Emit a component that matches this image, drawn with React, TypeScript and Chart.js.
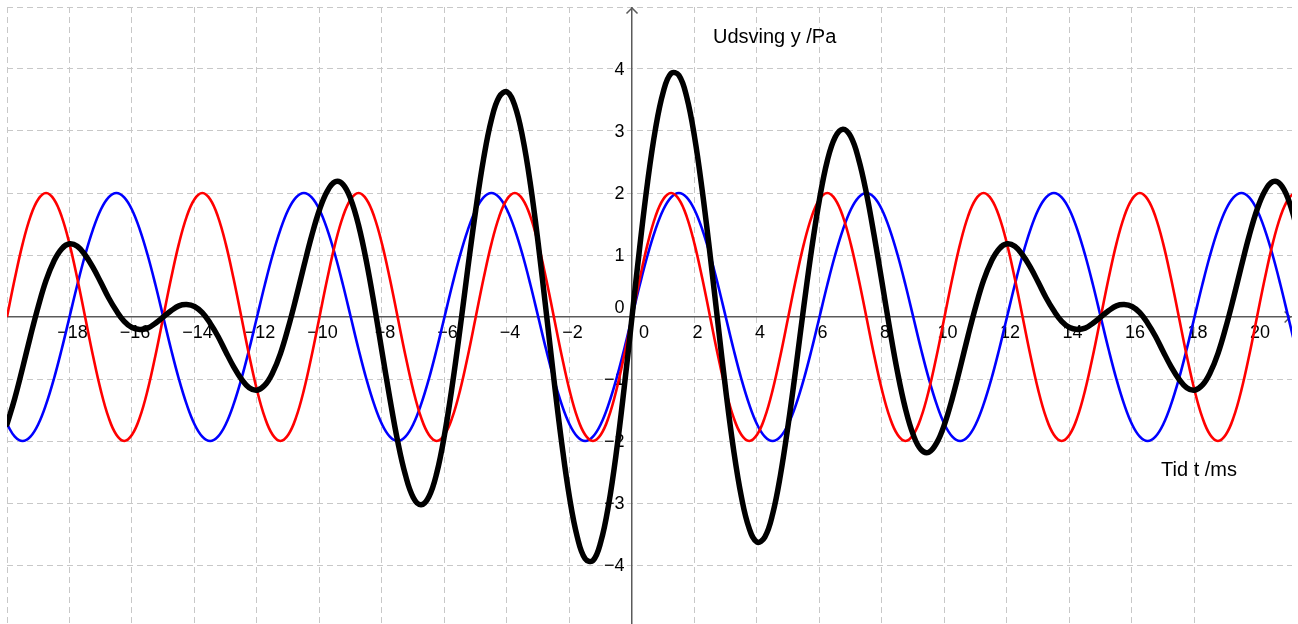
import { useEffect, useRef } from 'react';
import Chart from 'chart.js/auto';

// Time axis samples (ms)
const TIME = [
  -20, -19.75, -19.5, -19.25, -19, -18.75, -18.5, -18.25, -18, -17.75, -17.5, -17.25, -17, -16.75, -16.5, -16.25, -16, -15.75, -15.5, -15.25,
  -15, -14.75, -14.5, -14.25, -14, -13.75, -13.5, -13.25, -13, -12.75, -12.5, -12.25, -12, -11.75, -11.5, -11.25, -11, -10.75, -10.5, -10.25,
  -10, -9.75, -9.5, -9.25, -9, -8.75, -8.5, -8.25, -8, -7.75, -7.5, -7.25, -7, -6.75, -6.5, -6.25, -6, -5.75, -5.5, -5.25,
  -5, -4.75, -4.5, -4.25, -4, -3.75, -3.5, -3.25, -3, -2.75, -2.5, -2.25, -2, -1.75, -1.5, -1.25, -1, -0.75, -0.5, -0.25,
  0, 0.25, 0.5, 0.75, 1, 1.25, 1.5, 1.75, 2, 2.25, 2.5, 2.75, 3, 3.25, 3.5, 3.75, 4, 4.25, 4.5, 4.75,
  5, 5.25, 5.5, 5.75, 6, 6.25, 6.5, 6.75, 7, 7.25, 7.5, 7.75, 8, 8.25, 8.5, 8.75, 9, 9.25, 9.5, 9.75,
  10, 10.25, 10.5, 10.75, 11, 11.25, 11.5, 11.75, 12, 12.25, 12.5, 12.75, 13, 13.25, 13.5, 13.75, 14, 14.25, 14.5, 14.75,
  15, 15.25, 15.5, 15.75, 16, 16.25, 16.5, 16.75, 17, 17.25, 17.5, 17.75, 18, 18.25, 18.5, 18.75, 19, 19.25, 19.5, 19.75,
  20, 20.25, 20.5, 20.75, 21, 21.25, 21.5,
];

// Red tone (Pa)
const RED = [
  0, 0.62, 1.18, 1.62, 1.9, 2, 1.9, 1.62, 1.18, 0.62, 0, -0.62, -1.18, -1.62, -1.9, -2, -1.9, -1.62, -1.18, -0.62,
  0, 0.62, 1.18, 1.62, 1.9, 2, 1.9, 1.62, 1.18, 0.62, 0, -0.62, -1.18, -1.62, -1.9, -2, -1.9, -1.62, -1.18, -0.62,
  0, 0.62, 1.18, 1.62, 1.9, 2, 1.9, 1.62, 1.18, 0.62, 0, -0.62, -1.18, -1.62, -1.9, -2, -1.9, -1.62, -1.18, -0.62,
  0, 0.62, 1.18, 1.62, 1.9, 2, 1.9, 1.62, 1.18, 0.62, 0, -0.62, -1.18, -1.62, -1.9, -2, -1.9, -1.62, -1.18, -0.62,
  0, 0.62, 1.18, 1.62, 1.9, 2, 1.9, 1.62, 1.18, 0.62, 0, -0.62, -1.18, -1.62, -1.9, -2, -1.9, -1.62, -1.18, -0.62,
  0, 0.62, 1.18, 1.62, 1.9, 2, 1.9, 1.62, 1.18, 0.62, 0, -0.62, -1.18, -1.62, -1.9, -2, -1.9, -1.62, -1.18, -0.62,
  0, 0.62, 1.18, 1.62, 1.9, 2, 1.9, 1.62, 1.18, 0.62, 0, -0.62, -1.18, -1.62, -1.9, -2, -1.9, -1.62, -1.18, -0.62,
  0, 0.62, 1.18, 1.62, 1.9, 2, 1.9, 1.62, 1.18, 0.62, 0, -0.62, -1.18, -1.62, -1.9, -2, -1.9, -1.62, -1.18, -0.62,
  0, 0.62, 1.18, 1.62, 1.9, 2, 1.9,
];

// Blue tone (Pa)
const BLUE = [
  -1.73, -1.93, -2, -1.93, -1.73, -1.41, -1, -0.52, 0, 0.52, 1, 1.41, 1.73, 1.93, 2, 1.93, 1.73, 1.41, 1, 0.52, 0, -0.52, -1, -1.41,
  -1.73, -1.93, -2, -1.93, -1.73, -1.41, -1, -0.52, 0, 0.52, 1, 1.41, 1.73, 1.93, 2, 1.93, 1.73, 1.41, 1, 0.52, 0, -0.52, -1, -1.41,
  -1.73, -1.93, -2, -1.93, -1.73, -1.41, -1, -0.52, 0, 0.52, 1, 1.41, 1.73, 1.93, 2, 1.93, 1.73, 1.41, 1, 0.52, 0, -0.52, -1, -1.41,
  -1.73, -1.93, -2, -1.93, -1.73, -1.41, -1, -0.52, 0, 0.52, 1, 1.41, 1.73, 1.93, 2, 1.93, 1.73, 1.41, 1, 0.52, 0, -0.52, -1, -1.41,
  -1.73, -1.93, -2, -1.93, -1.73, -1.41, -1, -0.52, 0, 0.52, 1, 1.41, 1.73, 1.93, 2, 1.93, 1.73, 1.41, 1, 0.52, 0, -0.52, -1, -1.41,
  -1.73, -1.93, -2, -1.93, -1.73, -1.41, -1, -0.52, 0, 0.52, 1, 1.41, 1.73, 1.93, 2, 1.93, 1.73, 1.41, 1, 0.52, 0, -0.52, -1, -1.41,
  -1.73, -1.93, -2, -1.93, -1.73, -1.41, -1, -0.52, 0, 0.52, 1, 1.41, 1.73, 1.93, 2, 1.93, 1.73, 1.41, 1, 0.52, 0, -0.52, -1,
];

// Resulting sound (Pa)
const BLACK = [
  -1.73, -1.31, -0.82, -0.31, 0.17, 0.59, 0.9, 1.1, 1.18, 1.14, 1, 0.8, 0.56, 0.31, 0.1, -0.07, -0.17, -0.2, -0.18, -0.1,
  0, 0.1, 0.18, 0.2, 0.17, 0.07, -0.1, -0.31, -0.56, -0.8, -1, -1.14, -1.18, -1.1, -0.9, -0.59, -0.17, 0.31, 0.82, 1.31,
  1.73, 2.03, 2.18, 2.14, 1.9, 1.48, 0.9, 0.2, -0.56, -1.31, -2, -2.55, -2.91, -3.03, -2.9, -2.52, -1.9, -1.1, -0.18, 0.8,
  1.73, 2.55, 3.18, 3.55, 3.63, 3.41, 2.9, 2.14, 1.18, 0.1, -1, -2.03, -2.91, -3.55, -3.9, -3.93, -3.63, -3.03, -2.18, -1.14,
  0, 1.14, 2.18, 3.03, 3.63, 3.93, 3.9, 3.55, 2.91, 2.03, 1, -0.1, -1.18, -2.14, -2.9, -3.41, -3.63, -3.55, -3.18, -2.55,
  -1.73, -0.8, 0.18, 1.1, 1.9, 2.52, 2.9, 3.03, 2.91, 2.55, 2, 1.31, 0.56, -0.2, -0.9, -1.48, -1.9, -2.14, -2.18, -2.03,
  -1.73, -1.31, -0.82, -0.31, 0.17, 0.59, 0.9, 1.1, 1.18, 1.14, 1, 0.8, 0.56, 0.31, 0.1, -0.07, -0.17, -0.2, -0.18, -0.1,
  0, 0.1, 0.18, 0.2, 0.17, 0.07, -0.1, -0.31, -0.56, -0.8, -1, -1.14, -1.18, -1.1, -0.9, -0.59, -0.17, 0.31, 0.82, 1.31,
  1.73, 2.03, 2.18, 2.14, 1.9, 1.48, 0.9,
];

const X_TICKS = [-18, -16, -14, -12, -10, -8, -6, -4, -2, 0, 2, 4, 6, 8, 10, 12, 14, 16, 18, 20];
const Y_TICKS = [-4, -3, -2, -1, 0, 1, 2, 3, 4];
const X_MIN = -20;
const X_MAX = 21.12;
const Y_MIN = -5;
const Y_MAX = 5;
const Y_TITLE = 'Udsving y /Pa';
const X_TITLE = 'Tid t /ms';

const FONT_FAMILY = '"Liberation Sans", Arial, sans-serif';
const AXIS_COLOR = '#5a5a5a';
const GRID_COLOR = '#c8c8c8';

const fmt = (v: number) => (v < 0 ? '\u2212' + Math.abs(v) : String(v));

const axesPlugin = {
  id: 'geoAxes',
  beforeDatasetsDraw(chart: any) {
    const { ctx, chartArea } = chart;
    const xs = chart.scales.x;
    const ys = chart.scales.y;
    const x0 = xs.getPixelForValue(0);
    const y0 = ys.getPixelForValue(0);
    ctx.save();
    // arrows
    ctx.strokeStyle = AXIS_COLOR;
    ctx.lineWidth = 1.5;
    ctx.beginPath();
    ctx.moveTo(x0 - 5.5, chartArea.top + 6.5);
    ctx.lineTo(x0, chartArea.top + 1);
    ctx.lineTo(x0 + 5.5, chartArea.top + 6.5);
    ctx.stroke();
    const xTip = xs.getPixelForValue(21.06);
    ctx.beginPath();
    ctx.moveTo(xTip - 5.5, y0 - 5.5);
    ctx.lineTo(xTip, y0);
    ctx.lineTo(xTip - 5.5, y0 + 5.5);
    ctx.stroke();

    // tick labels
    ctx.fillStyle = '#000';
    ctx.font = '18px ' + FONT_FAMILY;
    ctx.textBaseline = 'middle';
    for (const v of X_TICKS) {
      if (v === 0) {
        ctx.textAlign = 'left';
        ctx.fillText(fmt(v), x0 + 7, y0 + 16);
      } else {
        ctx.textAlign = 'center';
        ctx.fillText(fmt(v), xs.getPixelForValue(v) + 3, y0 + 16);
      }
    }
    ctx.textAlign = 'right';
    for (const v of Y_TICKS) {
      const py = v === 0 ? y0 - 8.5 : ys.getPixelForValue(v) + 1.5;
      ctx.fillText(fmt(v), x0 - 7.5, py);
    }

    // axis titles
    ctx.font = '20px ' + FONT_FAMILY;
    ctx.textAlign = 'left';
    ctx.textBaseline = 'alphabetic';
    ctx.fillText(Y_TITLE, xs.getPixelForValue(2.59), ys.getPixelForValue(4.415));
    ctx.fillText(X_TITLE, xs.getPixelForValue(16.93), ys.getPixelForValue(-2.565));
    ctx.restore();
  },
};

export default function App() {
  const ref = useRef<HTMLCanvasElement | null>(null);

  useEffect(() => {
    if (!ref.current) return;
    const mk = (arr: number[]) => TIME.map((t, i) => ({ x: t, y: arr[i] }));
    const gridColorX = (c: any) => {
      const v = c.tick ? c.tick.value : NaN;
      if (v === 0 || Math.abs(v % 2) > 1e-9) return 'rgba(0,0,0,0)';
      return GRID_COLOR;
    };
    const gridColorY = (c: any) => {
      const v = c.tick ? c.tick.value : NaN;
      if (v === 0) return 'rgba(0,0,0,0)';
      return GRID_COLOR;
    };
    const chart = new Chart(ref.current, {
      type: 'line',
      data: {
        datasets: [
          {
            label: 'Sum',
            data: mk(BLACK),
            borderColor: '#000000',
            borderWidth: 5.5,
            pointRadius: 0,
            tension: 0.4,
            fill: false,
            borderCapStyle: 'round',
            borderJoinStyle: 'round',
          },
          {
            label: 'Rød',
            data: mk(RED),
            borderColor: '#ff0000',
            borderWidth: 2.6,
            pointRadius: 0,
            tension: 0.4,
            fill: false,
            borderJoinStyle: 'round',
          },
          {
            label: 'Blå',
            data: mk(BLUE),
            borderColor: '#0000ff',
            borderWidth: 2.6,
            pointRadius: 0,
            tension: 0.4,
            fill: false,
            borderJoinStyle: 'round',
          },
        ],
      },
      options: {
        responsive: false,
        animation: false,
        devicePixelRatio: 1,
        layout: { padding: 0 },
        plugins: {
          legend: { display: false },
          title: { display: false },
          tooltip: { enabled: false },
        },
        events: [],
        scales: {
          x: {
            type: 'linear',
            position: { y: 0 } as any,
            min: X_MIN,
            max: X_MAX,
            ticks: { display: false, stepSize: 2 },
            grid: { color: gridColorX, lineWidth: 1, drawTicks: false },
            border: { display: true, color: AXIS_COLOR, width: 1.5, dash: [6, 4] },
          },
          y: {
            type: 'linear',
            position: { x: 0 } as any,
            min: Y_MIN,
            max: Y_MAX,
            ticks: { display: false, stepSize: 1 },
            grid: { color: gridColorY, lineWidth: 1, drawTicks: false },
            border: { display: true, color: AXIS_COLOR, width: 1.5, dash: [6, 4] },
          },
        },
      },
      plugins: [axesPlugin],
    } as any);
    return () => chart.destroy();
  }, []);

  return (
    <div
      style={{
        position: 'fixed',
        left: 7,
        top: 7,
        width: 1285,
        height: 617,
        overflow: 'hidden',
        background: '#fff',
      }}
    >
      <canvas ref={ref} width={1285} height={620} style={{ display: 'block', width: 1285, height: 620 }} />
    </div>
  );
}
